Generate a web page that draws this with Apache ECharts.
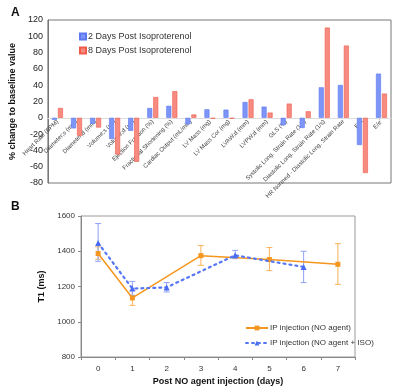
<!DOCTYPE html>
<html>
<head>
<meta charset="utf-8">
<script src="https://cdn.jsdelivr.net/npm/echarts@6/dist/echarts.min.js"></script>
<style>
  html, body { margin: 0; padding: 0; background: #fff; }
  #chart { width: 400px; height: 392px; }
</style>
</head>
<body>
<div id="chart"></div>
<script>
// ---- Panel A: % change to baseline ----
const measures = [
  'Heart Rate (BPM)', 'Diameter;s (mm)', 'Diameter;d (mm)', 'Volume;s (uL)', 'Volume;d (uL)',
  'Ejection Fraction (%)', 'Fractional Shortening (%)', 'Cardiac Output (mL/min)', 'LV Mass (mg)',
  'LV Mass Cor (mg)', 'LVAW;d (mm)', 'LVPW;d (mm)', 'GLS (%)', 'Systolic Long. Strain Rate (1/s)',
  'Diastolic Long. Strain Rate (1/s)', 'HR Normed - Diastolic Long. Strain Rate', 'E/A', "E/e'"
];
const day2 = [-2.5, -13, -7.5, -26, -16, 12, 14.7, -8, 10.4, 10, 19.4, 13.7, -9.2, -12.5, 37.4, 40.3, -33.4, 54.2];
const day8 = [12, -22, -12, -45, -54, 25.5, 32.7, 4, -1, -1, 22.7, 6.4, 17.4, 8, 110.7, 88.6, -67.7, 29.7];

// ---- Panel B: T1 over days ----
const days = ['0', '1', '2', '3', '4', '5', '6', '7'];
const noAgent = [1387, 1135, null, 1375, null, 1353, null, 1326];
const noAgentErr = [[0, 1355, 1425], [1, 1093, 1178], [3, 1320, 1432], [5, 1290, 1421], [7, 1212, 1443]];
const noAgentIso = [1447, 1188, 1195, null, 1377, null, 1311, null];
const noAgentIsoErr = [[0, 1343, 1557], [1, 1150, 1229], [2, 1169, 1222], [4, 1358, 1405], [6, 1222, 1400]];

const FONT = 'Liberation Sans';
const chart = echarts.init(document.getElementById('chart'));

// panel A plot box; category axis is lifted to the zero line
const gridA = { left: 41, top: 20, width: 350, height: 163 };
const yMinA = -80, yMaxA = 120;
const zeroLift = gridA.height * (0 - yMinA) / (yMaxA - yMinA);

function errorBars(color) {
  return function (params, api) {
    const x = api.value(0);
    const lo = api.coord([x, api.value(1)]);
    const hi = api.coord([x, api.value(2)]);
    const w = 3;
    const style = { stroke: color, lineWidth: 1 };
    return {
      type: 'group',
      children: [
        { type: 'line', shape: { x1: lo[0], y1: lo[1], x2: hi[0], y2: hi[1] }, style },
        { type: 'line', shape: { x1: lo[0] - w, y1: lo[1], x2: lo[0] + w, y2: lo[1] }, style },
        { type: 'line', shape: { x1: hi[0] - w, y1: hi[1], x2: hi[0] + w, y2: hi[1] }, style }
      ]
    };
  };
}

chart.setOption({
  animation: false,
  textStyle: { fontFamily: FONT },
  title: [
    { text: 'A', left: 6, top: 2, textStyle: { fontSize: 12, fontWeight: 'bold', color: '#111', fontFamily: FONT } },
    { text: 'B', left: 6, top: 196, textStyle: { fontSize: 12, fontWeight: 'bold', color: '#111', fontFamily: FONT } }
  ],
  legend: [
    {
      data: ['2 Days Post Isoproterenol', '8 Days Post Isoproterenol'],
      orient: 'vertical', left: 74, top: 27, itemGap: 5,
      itemWidth: 6, itemHeight: 6, icon: 'rect',
      textStyle: { fontSize: 9, color: '#333', fontFamily: FONT, padding: [0, 0, 0, -3] }
    },
    {
      data: ['IP injection (NO agent)', 'IP injection (NO agent + ISO)'],
      orient: 'vertical', left: 240, top: 319, itemGap: 7,
      itemWidth: 22, itemHeight: 6,
      textStyle: { fontSize: 8, color: '#333', fontFamily: FONT, padding: [0, 0, 0, -3] }
    }
  ],
  grid: [
    Object.assign({ show: true, borderColor: '#777', borderWidth: 1 }, gridA),
    { left: 81, top: 216, width: 274, height: 141, show: true, borderColor: '#999', borderWidth: 1 }
  ],
  xAxis: [
    {
      gridIndex: 0, type: 'category', data: measures,
      offset: -zeroLift,
      axisLine: { onZero: false, lineStyle: { color: '#ddd' } },
      axisTick: { show: false },
      axisLabel: { rotate: 45, fontSize: 6, color: '#444', margin: 3, interval: 0 }
    },
    {
      gridIndex: 1, type: 'category', data: days, boundaryGap: true,
      name: 'Post NO agent injection (days)', nameLocation: 'middle', nameGap: 20,
      nameTextStyle: { fontSize: 9, fontWeight: 'bold', color: '#111' },
      axisLine: { lineStyle: { color: '#888' } },
      axisTick: { show: true, length: 3, lineStyle: { color: '#888' } },
      axisLabel: { fontSize: 8, color: '#333', margin: 8 }
    }
  ],
  yAxis: [
    {
      gridIndex: 0, type: 'value', min: yMinA, max: yMaxA, interval: 20,
      name: '% change to baseline value', nameLocation: 'middle', nameGap: 20,
      nameTextStyle: { fontSize: 9, fontWeight: 'bold', color: '#111' },
      axisLine: { show: true, onZero: false, lineStyle: { color: '#777' } },
      axisTick: { show: false },
      splitLine: { show: false },
      axisLabel: { fontSize: 9, color: '#222', margin: 5, formatter: v => String(v) }
    },
    {
      gridIndex: 1, type: 'value', min: 800, max: 1600, interval: 200,
      name: 'T1 (ms)', nameLocation: 'middle', nameGap: 27,
      nameTextStyle: { fontSize: 9, fontWeight: 'bold', color: '#111' },
      axisLine: { show: true, lineStyle: { color: '#888' } },
      axisTick: { show: true, length: 3, lineStyle: { color: '#888' } },
      splitLine: { show: false },
      axisLabel: { fontSize: 8, color: '#333', margin: 6, formatter: v => String(v) }
    }
  ],
  series: [
    {
      name: '2 Days Post Isoproterenol', type: 'bar', xAxisIndex: 0, yAxisIndex: 0,
      data: day2, barWidth: 5, barGap: '20%',
      itemStyle: { color: '#7d95f6', borderColor: '#5b78f2', borderWidth: 0.6 }
    },
    {
      name: '8 Days Post Isoproterenol', type: 'bar', xAxisIndex: 0, yAxisIndex: 0,
      data: day8, barWidth: 5,
      itemStyle: { color: '#f78b80', borderColor: '#ef5a4c', borderWidth: 0.6 }
    },
    {
      name: 'IP injection (NO agent)', type: 'line', xAxisIndex: 1, yAxisIndex: 1,
      data: noAgent, connectNulls: true,
      symbol: 'rect', symbolSize: 5,
      lineStyle: { color: '#f5961e', width: 1.5 },
      itemStyle: { color: '#f5961e' }, z: 3
    },
    {
      name: 'IP injection (NO agent + ISO)', type: 'line', xAxisIndex: 1, yAxisIndex: 1,
      data: noAgentIso, connectNulls: true,
      symbol: 'triangle', symbolSize: 6,
      lineStyle: { color: '#5676f5', width: 2.2, type: [2, 4], cap: 'round' },
      itemStyle: { color: '#4a6cf4' }, z: 4
    },
    {
      type: 'custom', xAxisIndex: 1, yAxisIndex: 1,
      data: noAgentErr, encode: { x: 0, y: [1, 2] },
      renderItem: errorBars('#f8b35a'), z: 2
    },
    {
      type: 'custom', xAxisIndex: 1, yAxisIndex: 1,
      data: noAgentIsoErr, encode: { x: 0, y: [1, 2] },
      renderItem: errorBars('#8ea2f5'), z: 2
    }
  ]
});
</script>
</body>
</html>
